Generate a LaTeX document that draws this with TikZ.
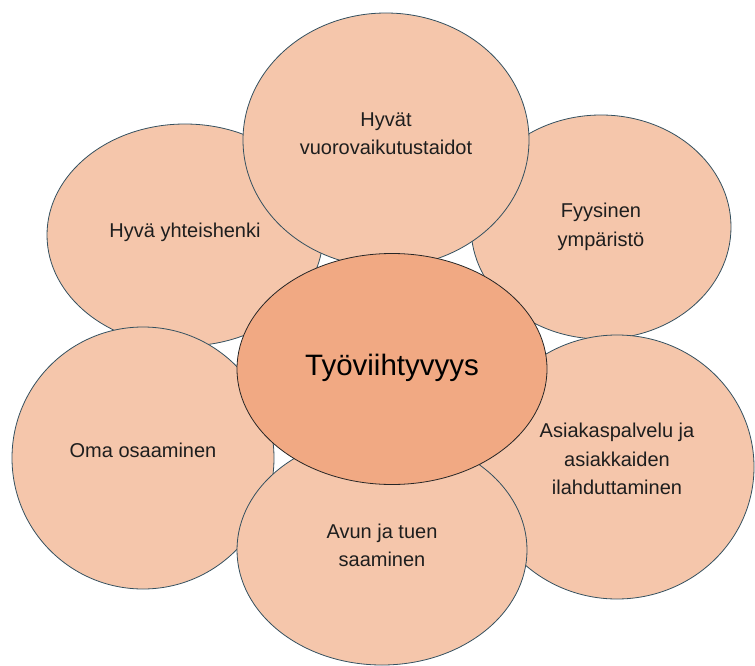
\documentclass[tikz,border=0pt]{standalone}
\usepackage{fontspec}
\setmainfont{Liberation Sans}
\usepackage{tikz}
\usetikzlibrary{shapes.geometric}
\definecolor{petal-fill}{HTML}{F5C6AB}
\definecolor{petal-line}{HTML}{34505F}
\definecolor{core-fill}{HTML}{F1A983}
\definecolor{label-text}{HTML}{1E1E1E}

\begin{document}
\begin{tikzpicture}[
  x=1pt, y=-1pt,
  petal/.style={
    ellipse, draw=petal-line, fill=petal-fill,
    line width=0.8pt, inner sep=0pt,
    align=center, text=label-text,
    font=\fontsize{20}{28.5}\selectfont
  },
  core/.style={
    ellipse, draw=black!85, fill=core-fill,
    line width=0.8pt, inner sep=0pt,
    align=center, text=black,
    font=\fontsize{29.5}{34}\selectfont
  }
]
\useasboundingbox (0,0) rectangle (755,666);

%% Outer petals
\node[petal, minimum width=276pt, minimum height=222pt] (spirit) at (185,235) {Hyvä yhteishenki\\[-18.5pt]};
\node[petal, minimum width=260pt, minimum height=224pt] (env) at (601,227) {Fyysinen\\ympäristö};
\node[petal, minimum width=286pt, minimum height=254pt] (comm) at (386,140) {Hyvät\\vuorovaikutustaidot\\[-16pt]};
\node[petal, minimum width=262pt, minimum height=262pt] (skill) at (143,458) {Oma osaaminen\\[-12.5pt]};
\node[petal, minimum width=274pt, minimum height=264pt] (service) at (617,467) {Asiakaspalvelu ja\\asiakkaiden\\ilahduttaminen\\[-12.5pt]};
\node[petal, minimum width=290pt, minimum height=230pt] (support) at (382,550) {Avun ja tuen\\saaminen\\[-18.5pt]};

%% Centre
\node[core, minimum width=310pt, minimum height=231pt] (wellbeing) at (392,369) {Työviihtyvyys\\[-26pt]};

\end{tikzpicture}
\end{document}
